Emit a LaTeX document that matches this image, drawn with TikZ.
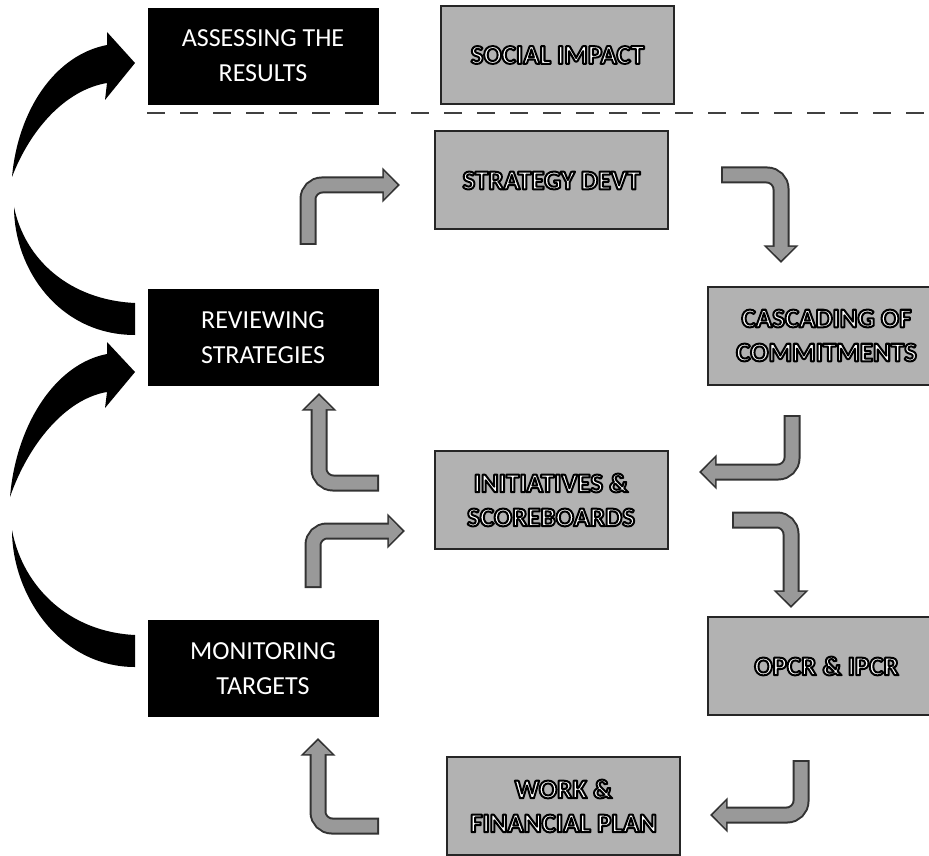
\documentclass[tikz,border=0pt]{standalone}
\usepackage{fontspec}
\setmainfont{Carlito}
\usetikzlibrary{arrows.meta}
% white letters with a black rim (fill, then stroke)
\newcommand{\ct}[1]{\special{pdf:literal direct 2 Tr 1.0 w 1 j 0 0 0 RG}#1\special{pdf:literal direct 0 Tr}}

\tikzset{
  darkbox/.style={draw=black, fill=black, text=white, minimum width=115pt, minimum height=48pt,
    align=center, font=\fontsize{13}{17.5}\selectfont},
  greybox/.style={draw=black!85, line width=1pt, fill=black!30, text=white, minimum width=116.5pt,
    minimum height=49pt, align=center, font=\fontsize{13.5}{17}\selectfont\bfseries},
  turnarrow/.style={draw=black!40, line width=6.5pt, rounded corners=7pt, shorten >=1.3pt, shorten <=1pt,
    -{Triangle[width=13.5pt,length=6.8pt]},
    preaction={draw=black!80, line width=8.5pt, shorten >=0pt, shorten <=0pt, -{Triangle[width=17pt,length=8.8pt]}}},
}

\begin{document}
\begin{tikzpicture}[x=0.5pt,y=-0.5pt]
        \useasboundingbox (0,0) rectangle (929,855);
        \clip (0,0) rectangle (929,855);
        \fill[white] (0,0) rectangle (929,855);
        % left column
        \node[darkbox] (assess) at (263,56) {ASSESSING THE\\RESULTS};
        \node[darkbox] (review) at (263,337.5) {REVIEWING\\STRATEGIES};
        \node[darkbox] (monitor) at (263,668.5) {MONITORING\\TARGETS};
        % grey boxes
        \node[greybox] (social) at (557.5,55) {\ct{SOCIAL IMPACT}};
        \node[greybox] (strategy) at (551.5,180.5) {\ct{STRATEGY DEVT}};
        \node[greybox, minimum width=118.5pt] (cascade) at (826.5,335.5) {\ct{CASCADING OF}\\\ct{COMMITMENTS}};
        \node[greybox] (initiative) at (551,500) {\ct{INITIATIVES \&}\\\ct{SCOREBOARDS}};
        \node[greybox, minimum width=118.5pt] (opcr) at (826.5,666) {\ct{OPCR \& IPCR}};
        \node[greybox] (workplan) at (563.5,806) {\ct{WORK \&}\\\ct{FINANCIAL PLAN}};
        \draw[line width=1.3pt, black!75, dash pattern=on 9pt off 7.5pt] (147,113) -- (929,113);
        % big curved arrows
        \fill (12,177) .. controls (18,110) and (55,55) .. (107,45) -- (107,32) -- (135,63) -- (105,100)
          -- (107,83) .. controls (65,90) and (30,130) .. (12,177);
        \fill (14,207) .. controls (14,270) and (60,335) .. (135,335) -- (135,303)
          .. controls (70,300) and (25,260) .. (14,207);
        \fill (10,497) .. controls (16,425) and (55,364) .. (107,354) -- (107,342) -- (135,372) -- (105,408)
          -- (107,392) .. controls (65,399) and (28,445) .. (10,497);
        \fill (12,530) .. controls (12,595) and (60,667) .. (135,667) -- (135,635)
          .. controls (70,632) and (23,588) .. (12,530);
        % bent arrows
        \coordinate (rs1) at (308,245);  \coordinate (rs2) at (400,185);
        \coordinate (sc1) at (721,175);  \coordinate (sc2) at (781,263);
        \coordinate (ci1) at (792,415);  \coordinate (ci2) at (699,472);
        \coordinate (io1) at (732,520);  \coordinate (io2) at (791,608);
        \coordinate (ow1) at (801,760);  \coordinate (ow2) at (710,815);
        \coordinate (wm1) at (379,826);  \coordinate (wm2) at (318,738);
        \coordinate (mi1) at (313,588);  \coordinate (mi2) at (405,531);
        \coordinate (ir1) at (379,483);  \coordinate (ir2) at (319,393);
        \draw[turnarrow] (rs1) |- (rs2);
        \draw[turnarrow] (sc1) -| (sc2);
        \draw[turnarrow] (ci1) |- (ci2);
        \draw[turnarrow] (io1) -| (io2);
        \draw[turnarrow] (ow1) |- (ow2);
        \draw[turnarrow] (wm1) -| (wm2);
        \draw[turnarrow] (mi1) |- (mi2);
        \draw[turnarrow] (ir1) -| (ir2);
      \end{tikzpicture}
\end{document}
